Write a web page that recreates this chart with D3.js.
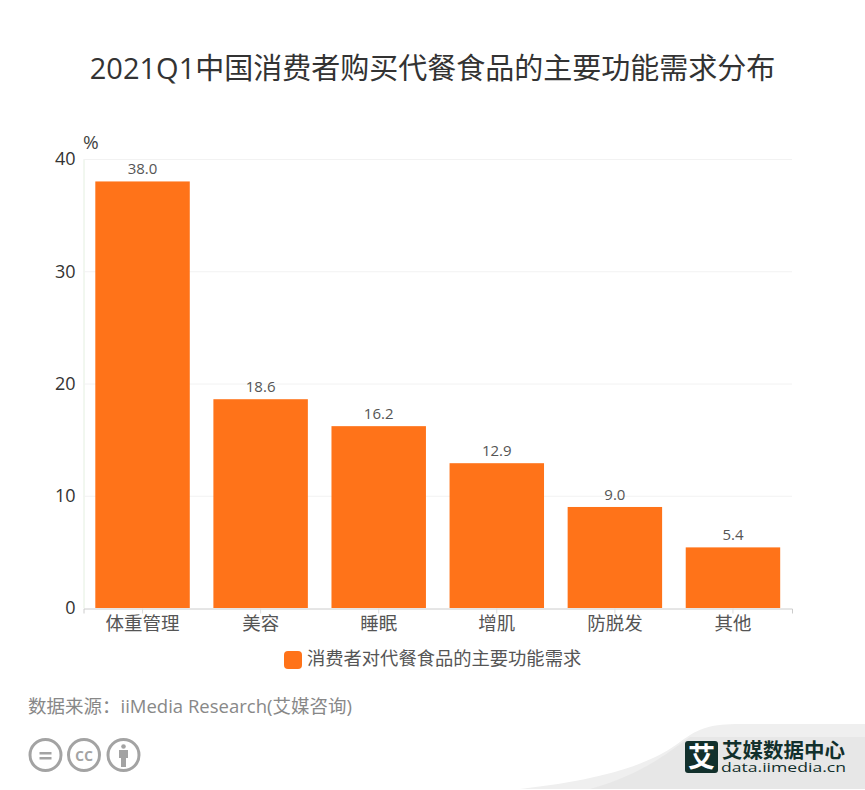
<!DOCTYPE html>
<html>
<head>
<meta charset="utf-8">
<script src="https://cdn.jsdelivr.net/npm/d3@7/dist/d3.min.js"></script>
<style>
    html, body { margin: 0; padding: 0; background: #fff; }
    svg { display: block; }
    text { font-family: "Open Sans", "Noto Sans CJK SC", sans-serif; }
</style>
</head>
<body>
<div id="chart"></div>
<script>
    var categories = ['体重管理', '美容', '睡眠', '增肌', '防脱发', '其他'];
    var values = [38.0, 18.6, 16.2, 12.9, 9.0, 5.4];
    var yTicks = [0, 10, 20, 30, 40];
    var titleText = '2021Q1中国消费者购买代餐食品的主要功能需求分布';
    var seriesName = '消费者对代餐食品的主要功能需求';
    var sourceText = '数据来源：iiMedia Research(艾媒咨询)';

    var width = 865, height = 790;
    var margin = {top: 159, right: 73, bottom: 182, left: 83.5};
    var orange = '#ff7319';

    var svg = d3.select('#chart').append('svg')
            .attr('width', width)
            .attr('height', height);

    var x = d3.scaleBand()
            .domain(categories)
            .range([margin.left, width - margin.right])
            .paddingInner(0.2)
            .paddingOuter(0.1);
    var y = d3.scaleLinear()
            .domain([0, 40])
            .range([height - margin.bottom, margin.top]);

    // bottom swoosh, behind everything else
    svg.append('path')
            .attr('d', 'M520,789 C600,780 650,765 680,742 C700,727 712,724 740,724 L865,724 L865,789 Z')
            .attr('fill', '#efefef');
    svg.append('path')
            .attr('d', 'M590,789 C640,775 665,755 690,737 L865,737 L865,789 Z')
            .attr('fill', '#e7e7e7');

    svg.append('text')
            .attr('x', 432.5)
            .attr('y', 79)
            .attr('text-anchor', 'middle')
            .attr('font-size', 29)
            .attr('fill', '#333')
            .text(titleText);

    // y axis
    var yAxis = svg.append('g')
            .attr('transform', 'translate(' + margin.left + ',0)')
            .call(d3.axisLeft(y).tickValues(yTicks).tickSize(0).tickPadding(8));
    yAxis.select('.domain').attr('stroke', '#e4efe0').attr('stroke-width', 1);
    yAxis.selectAll('text')
            .attr('font-size', 18)
            .attr('fill', '#333');

    // grid
    svg.append('g').selectAll('line')
            .data(yTicks.slice(1))
            .join('line')
            .attr('x1', margin.left)
            .attr('x2', width - margin.right)
            .attr('y1', function (d) { return y(d) + 0.5; })
            .attr('y2', function (d) { return y(d) + 0.5; })
            .attr('stroke', '#f2f2f2');

    svg.append('text')
            .attr('x', 83)
            .attr('y', 149)
            .attr('font-size', 19)
            .attr('fill', '#444')
            .text('%');

    // bars
    svg.append('g').selectAll('rect')
            .data(values)
            .join('rect')
            .attr('x', function (d, i) { return x(categories[i]); })
            .attr('y', function (d) { return y(d); })
            .attr('width', x.bandwidth())
            .attr('height', function (d) { return y(0) - y(d); })
            .attr('fill', orange);

    svg.append('g').selectAll('text')
            .data(values)
            .join('text')
            .attr('x', function (d, i) { return x(categories[i]) + x.bandwidth() / 2; })
            .attr('y', function (d) { return y(d) - 7; })
            .attr('text-anchor', 'middle')
            .attr('font-size', 15)
            .attr('fill', '#555')
            .text(function (d) { return d.toFixed(1); });

    // x axis
    var xAxis = svg.append('g')
            .attr('transform', 'translate(0,' + (height - margin.bottom + 0.5) + ')')
            .call(d3.axisBottom(x).tickSize(5).tickPadding(3));
    xAxis.select('.domain').attr('stroke', '#ccc');
    xAxis.selectAll('.tick line').attr('stroke', '#ddd');
    xAxis.selectAll('text')
            .attr('font-size', 18.5)
            .attr('fill', '#555');

    // legend
    svg.append('rect')
            .attr('x', 284)
            .attr('y', 651)
            .attr('width', 18)
            .attr('height', 18)
            .attr('rx', 4)
            .attr('fill', orange);
    svg.append('text')
            .attr('x', 307)
            .attr('y', 665)
            .attr('font-size', 18.3)
            .attr('fill', '#555')
            .text(seriesName);

    svg.append('text')
            .attr('x', 28)
            .attr('y', 713)
            .attr('font-size', 18.5)
            .attr('fill', '#888')
            .text(sourceText);

    // licence icons
    var icons = svg.append('g');
    [45.5, 84, 123.5].forEach(function (cx) {
        icons.append('circle')
                .attr('cx', cx)
                .attr('cy', 755)
                .attr('r', 15.5)
                .attr('fill', 'none')
                .attr('stroke', '#a3a3a3')
                .attr('stroke-width', 3);
    });
    icons.append('rect').attr('x', 39.5).attr('y', 752).attr('width', 12).attr('height', 2.5).attr('fill', '#a3a3a3');
    icons.append('rect').attr('x', 39.5).attr('y', 757).attr('width', 12).attr('height', 2.5).attr('fill', '#a3a3a3');
    icons.append('text')
            .attr('x', 84)
            .attr('y', 761)
            .attr('text-anchor', 'middle')
            .attr('font-size', 18)
            .attr('font-weight', 600)
            .attr('fill', '#a3a3a3')
            .text('cc');
    icons.append('circle').attr('cx', 123.5).attr('cy', 746.5).attr('r', 2.3).attr('fill', '#a3a3a3');
    icons.append('path')
            .attr('d', 'M119,750 H128 V758 H126 V767 H121 V758 H119 Z')
            .attr('fill', '#a3a3a3');

    // logo
    svg.append('rect')
            .attr('x', 685)
            .attr('y', 741)
            .attr('width', 33)
            .attr('height', 32)
            .attr('rx', 3)
            .attr('fill', '#12302c');
    svg.append('text')
            .attr('x', 701.5)
            .attr('y', 767)
            .attr('text-anchor', 'middle')
            .attr('font-size', 27)
            .attr('font-weight', 700)
            .attr('fill', '#fff')
            .style('font-family', '"Noto Sans CJK SC"')
            .text('艾');
    svg.append('text')
            .attr('x', 722)
            .attr('y', 758)
            .attr('font-size', 20.5)
            .attr('font-weight', 700)
            .attr('fill', '#12302c')
            .style('font-family', '"Noto Sans CJK SC"')
            .text('艾媒数据中心');
    svg.append('text')
            .attr('x', 721)
            .attr('y', 772)
            .attr('font-size', 13)
            .attr('textLength', 125)
            .attr('lengthAdjust', 'spacingAndGlyphs')
            .attr('fill', '#12302c')
            .text('data.iimedia.cn');
</script>
</body>
</html>
